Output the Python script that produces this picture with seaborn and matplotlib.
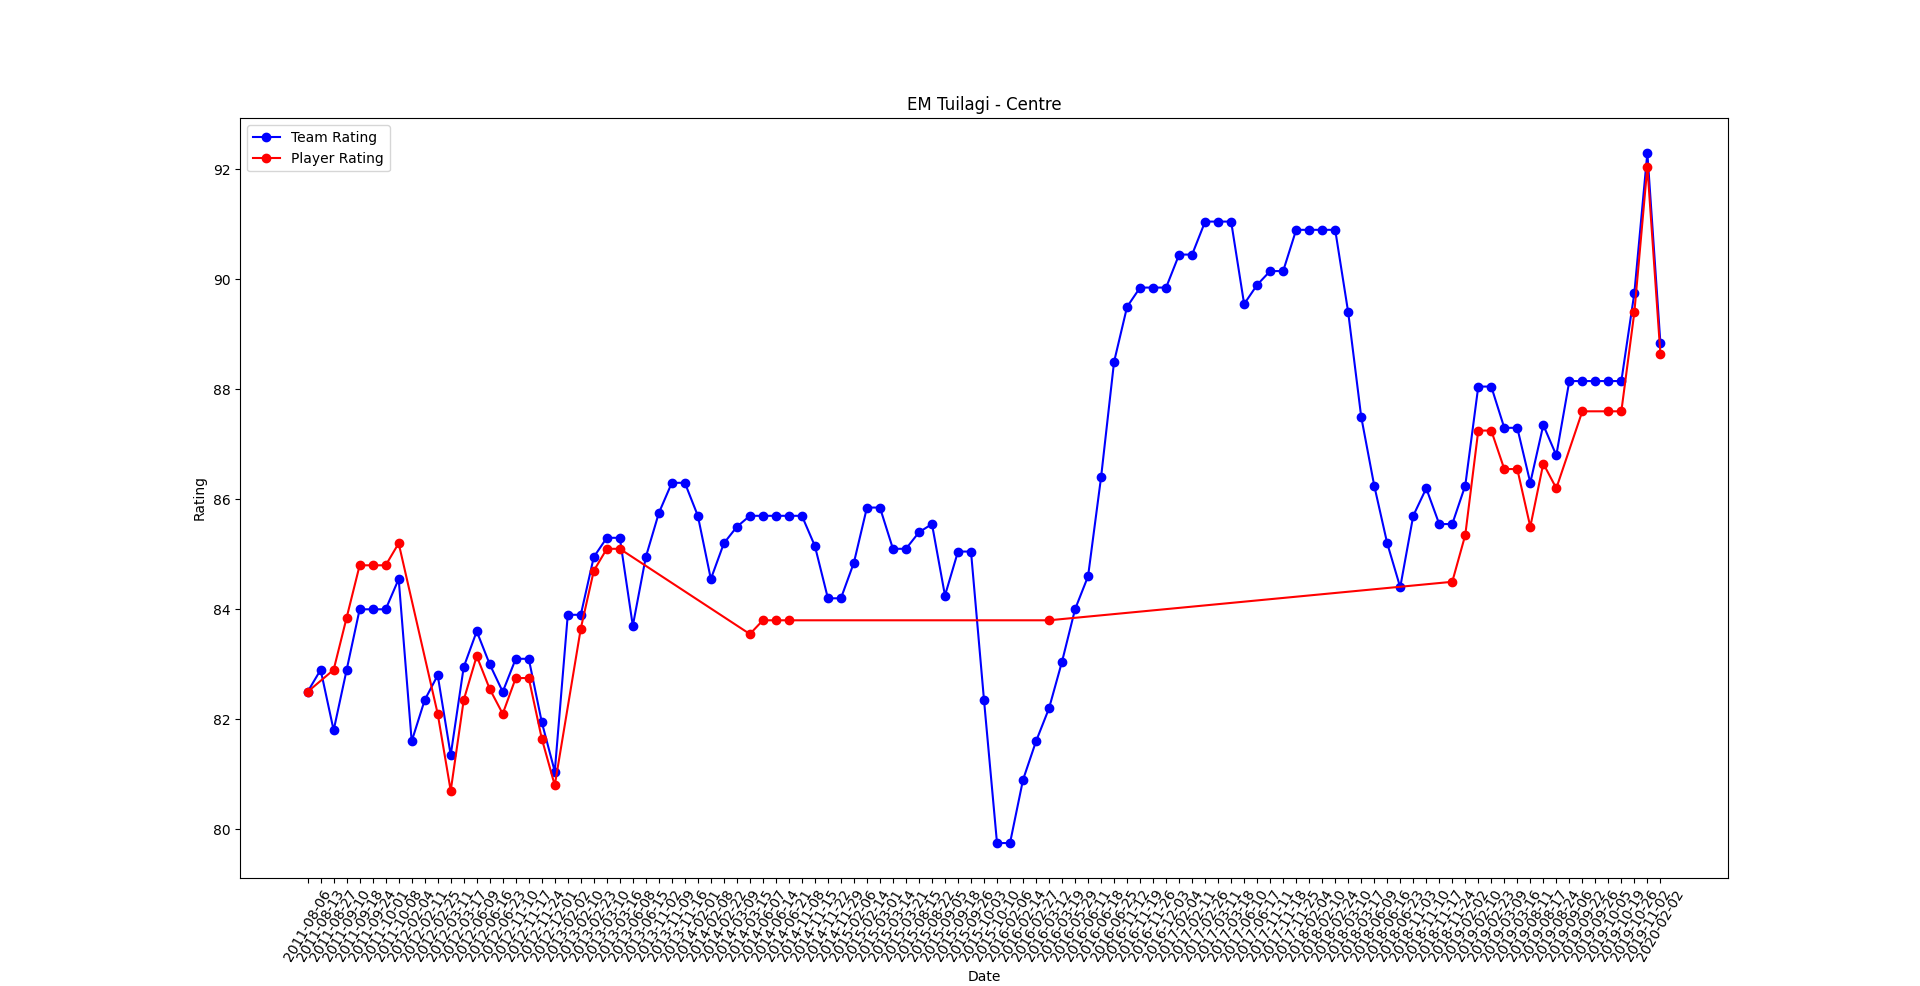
import matplotlib
matplotlib.use("Agg")
import matplotlib.pyplot as plt
import seaborn as sns
import pandas as pd

dates = [
    "2011-08-06", "2011-08-13", "2011-08-27", "2011-09-10", "2011-09-18", "2011-09-24", "2011-10-01", "2011-10-08",
    "2012-02-04", "2012-02-11", "2012-02-25", "2012-03-11", "2012-03-17", "2012-06-09", "2012-06-16", "2012-06-23",
    "2012-11-10", "2012-11-17", "2012-11-24", "2012-12-01",
    "2013-02-02", "2013-02-10", "2013-02-23", "2013-03-10", "2013-03-16", "2013-06-08", "2013-06-15",
    "2013-11-02", "2013-11-09", "2013-11-16",
    "2014-02-01", "2014-02-08", "2014-02-22", "2014-03-09", "2014-03-15", "2014-06-07", "2014-06-14", "2014-06-21",
    "2014-11-08", "2014-11-15", "2014-11-22", "2014-11-29",
    "2015-02-06", "2015-02-14", "2015-03-01", "2015-03-14", "2015-03-21", "2015-08-15", "2015-08-22", "2015-09-05",
    "2015-09-18", "2015-09-26", "2015-10-03", "2015-10-10",
    "2016-02-06", "2016-02-14", "2016-02-27", "2016-03-12", "2016-03-19", "2016-05-29", "2016-06-11", "2016-06-18",
    "2016-06-25", "2016-11-12", "2016-11-19", "2016-11-26", "2016-12-03",
    "2017-02-04", "2017-02-11", "2017-02-26", "2017-03-11", "2017-03-18", "2017-06-10", "2017-06-17",
    "2017-11-11", "2017-11-18", "2017-11-25",
    "2018-02-04", "2018-02-10", "2018-02-24", "2018-03-10", "2018-03-17", "2018-06-09", "2018-06-16", "2018-06-23",
    "2018-11-03", "2018-11-10", "2018-11-17", "2018-11-24",
    "2019-02-02", "2019-02-10", "2019-02-23", "2019-03-09", "2019-03-16", "2019-08-11", "2019-08-17", "2019-08-24",
    "2019-09-06", "2019-09-22", "2019-09-26", "2019-10-05", "2019-10-19", "2019-10-26", "2019-11-02",
    "2020-02-02",
]

team_rating = [
    82.5, 82.9, 81.8, 82.9, 84.0, 84.0, 84.0, 84.55,
    81.6, 82.35, 82.8, 81.35, 82.95, 83.6, 83.0, 82.5,
    83.1, 83.1, 81.95, 81.05,
    83.9, 83.9, 84.95, 85.3, 85.3, 83.7, 84.95,
    85.75, 86.3, 86.3,
    85.7, 84.55, 85.2, 85.5, 85.7, 85.7, 85.7, 85.7,
    85.7, 85.15, 84.2, 84.2,
    84.85, 85.85, 85.85, 85.1, 85.1, 85.4, 85.55, 84.25,
    85.05, 85.05, 82.35, 79.75,
    79.75, 80.9, 81.6, 82.2, 83.05, 84.0, 84.6, 86.4,
    88.5, 89.5, 89.85, 89.85, 89.85,
    90.45, 90.45, 91.05, 91.05, 91.05, 89.55, 89.9,
    90.15, 90.15, 90.9,
    90.9, 90.9, 90.9, 89.4, 87.5, 86.25, 85.2, 84.4,
    85.7, 86.2, 85.55, 85.55,
    86.25, 88.05, 88.05, 87.3, 87.3, 86.3, 87.35, 86.8,
    88.15, 88.15, 88.15, 88.15, 88.15, 89.75, 92.3,
    88.85,
]

player_dates = [
    "2011-08-06", "2011-08-27", "2011-09-10", "2011-09-18", "2011-09-24", "2011-10-01", "2011-10-08",
    "2012-02-25", "2012-03-11", "2012-03-17", "2012-06-09", "2012-06-16", "2012-06-23",
    "2012-11-10", "2012-11-17", "2012-11-24", "2012-12-01",
    "2013-02-10", "2013-02-23", "2013-03-10", "2013-03-16",
    "2014-03-15", "2014-06-07", "2014-06-14", "2014-06-21",
    "2016-03-12",
    "2018-11-24", "2019-02-02", "2019-02-10", "2019-02-23", "2019-03-09", "2019-03-16", "2019-08-11",
    "2019-08-17", "2019-08-24", "2019-09-22", "2019-10-05", "2019-10-19", "2019-10-26", "2019-11-02",
    "2020-02-02",
]

player_rating = [
    82.5, 82.9, 83.85, 84.8, 84.8, 84.8, 85.2,
    82.1, 80.7, 82.35, 83.15, 82.55, 82.1,
    82.75, 82.75, 81.65, 80.8,
    83.65, 84.7, 85.1, 85.1,
    83.55, 83.8, 83.8, 83.8,
    83.8,
    84.5, 85.35, 87.25, 87.25, 86.55, 86.55, 85.5,
    86.65, 86.2, 87.6, 87.6, 87.6, 89.4, 92.05,
    88.65,
]

team_df = pd.DataFrame({"Date": dates, "Rating": team_rating})
player_df = pd.DataFrame({"Date": player_dates, "Rating": player_rating})

fig, ax = plt.subplots(figsize=(19.2, 9.86), dpi=100)

sns.lineplot(data=team_df, x="Date", y="Rating", ax=ax, color="blue", marker="o",
             markersize=6, markeredgecolor="blue", markeredgewidth=1, linewidth=1.5,
             sort=False, errorbar=None, label="Team Rating")
sns.lineplot(data=player_df, x="Date", y="Rating", ax=ax, color="red", marker="o",
             markersize=6, markeredgecolor="red", markeredgewidth=1, linewidth=1.5,
             sort=False, errorbar=None, label="Player Rating")

ax.set_title("EM Tuilagi - Centre")
ax.set_xlabel("Date")
ax.set_ylabel("Rating")
ax.legend(loc="upper left")
plt.setp(ax.get_xticklabels(), rotation=60)

fig.savefig("out.png", dpi=100)
